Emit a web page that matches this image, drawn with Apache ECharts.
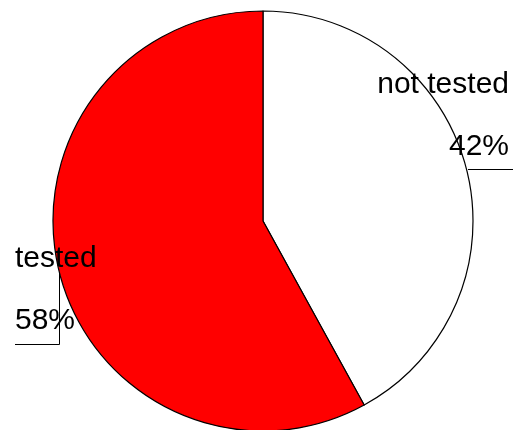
<!doctype html>
<html>
    <head>
        <meta charset="utf-8">
        <title>Pie - tested</title>
        <style>
            html, body { margin: 0; padding: 0; background: #fff; }
            #main { width: 520px; height: 430px; }
        </style>
    </head>
    <body>
        <div id="main"></div>
        <script src="https://cdn.jsdelivr.net/npm/echarts@6/dist/echarts.min.js"></script>
        <script>
            var categories = ['not tested', 'tested'];
            var values = [42, 58];
            var colors = ['#ffffff', '#ff0000'];

            // where each label sits (R-style labels drawn beside the pie)
            var labelPos = [
                { x: 509, y: 69, align: 'right' },
                { x: 15, y: 243, align: 'left' }
            ];

            var chart = echarts.init(document.getElementById('main'));

            chart.setOption({
                animation: false,
                backgroundColor: '#fff',
                graphic: [
                    // leader strokes next to the labels
                    { type: 'polyline', silent: true, z: 10, shape: { points: [[468, 169.5], [513, 169.5]] },
                      style: { stroke: '#000', lineWidth: 1, fill: null } },
                    { type: 'polyline', silent: true, z: 10, shape: { points: [[59.5, 273], [59.5, 344.5], [15, 344.5]] },
                      style: { stroke: '#000', lineWidth: 1, fill: null } }
                ],
                series: [{
                    type: 'pie',
                    center: [263, 221],
                    radius: 210,
                    startAngle: 90,
                    clockwise: true,
                    silent: true,
                    avoidLabelOverlap: false,
                    data: categories.map(function (name, i) {
                        return {
                            name: name,
                            value: values[i],
                            itemStyle: { color: colors[i] }
                        };
                    }),
                    itemStyle: {
                        borderColor: '#000',
                        borderWidth: 1.2
                    },
                    label: {
                        show: true,
                        position: 'inside',
                        formatter: '{b}\n\n{d}%',
                        fontFamily: 'Liberation Sans, Arial, sans-serif',
                        fontSize: 30,
                        lineHeight: 31,
                        color: '#000'
                    },
                    labelLine: { show: false },
                    labelLayout: function (params) {
                        var p = labelPos[params.dataIndex];
                        return {
                            x: p.x,
                            y: p.y,
                            align: p.align,
                            verticalAlign: 'top'
                        };
                    }
                }]
            });

            window.addEventListener('resize', function () {
                chart.resize();
            });
        </script>
    </body>
</html>
